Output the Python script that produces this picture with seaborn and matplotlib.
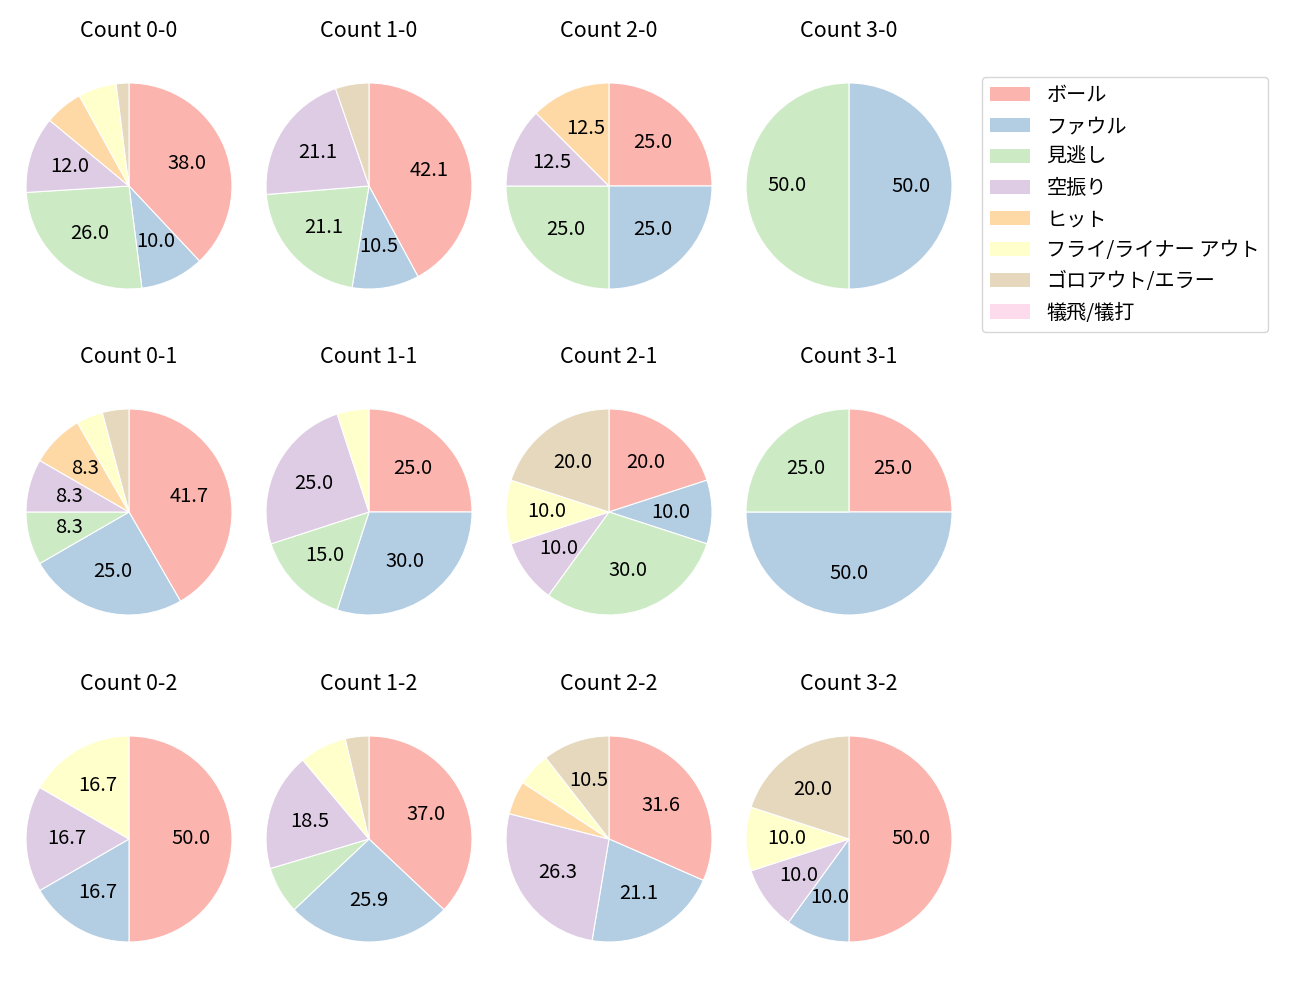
import matplotlib
matplotlib.use("Agg")
import matplotlib.pyplot as plt
import seaborn as sns
from matplotlib.patches import Patch

sns.set_theme(style="white")
plt.rcParams['font.family'] = ['Noto Sans CJK JP', 'DejaVu Sans']
plt.rcParams['text.color'] = 'black'

categories = ["ボール", "ファウル", "見逃し", "空振り", "ヒット",
              "フライ/ライナー アウト", "ゴロアウト/エラー", "犠飛/犠打"]

counts = {
    "0-0": [19, 5, 13, 6, 3, 3, 1, 0],
    "1-0": [8, 2, 4, 4, 0, 0, 1, 0],
    "2-0": [2, 2, 2, 1, 1, 0, 0, 0],
    "3-0": [0, 1, 1, 0, 0, 0, 0, 0],
    "0-1": [10, 6, 2, 2, 2, 1, 1, 0],
    "1-1": [5, 6, 3, 5, 0, 1, 0, 0],
    "2-1": [2, 1, 3, 1, 0, 1, 2, 0],
    "3-1": [1, 2, 1, 0, 0, 0, 0, 0],
    "0-2": [3, 1, 0, 1, 0, 1, 0, 0],
    "1-2": [10, 7, 2, 5, 0, 2, 1, 0],
    "2-2": [6, 4, 0, 5, 1, 1, 2, 0],
    "3-2": [5, 1, 0, 1, 0, 1, 2, 0],
}

balls = [0, 1, 2, 3]
strikes = [0, 1, 2]

colors = sns.color_palette("Pastel1", 9)[:8]

W, H = 1300, 1000
fig = plt.figure(figsize=(13, 10), dpi=100)

box = 240
col_x = [129, 369, 609, 849]
row_y = [186, 512, 839]

for si, s in enumerate(strikes):
    for bi, b in enumerate(balls):
        key = f"{b}-{s}"
        vals = counts[key]
        cx, cy = col_x[bi], row_y[si]
        ax = fig.add_axes([(cx - box / 2) / W, 1 - (cy + box / 2) / H, box / W, box / H])
        nz = [(v, c) for v, c in zip(vals, colors) if v > 0]
        ax.pie([v for v, _ in nz], colors=[c for _, c in nz], startangle=90,
               counterclock=False,
               autopct=lambda p: f"{p:.1f}" if p >= 8 else "",
               pctdistance=0.6,
               wedgeprops=dict(edgecolor="white", linewidth=0.8),
               textprops=dict(fontsize=14.5, color="black"))
        ax.set_xlim(-1.165, 1.165)
        ax.set_ylim(-1.165, 1.165)
        ax.set_aspect("equal")
        ax.set_title(f"Count {key}", fontsize=15.5, pad=21, color="black")

handles = [Patch(facecolor=c, edgecolor="none") for c in colors]
fig.legend(handles, categories, loc="upper left",
           bbox_to_anchor=(982 / W, 1 - 77 / H), fontsize=14.5,
           frameon=True, edgecolor="#cccccc", fancybox=True,
           handlelength=2.0, borderaxespad=0, labelspacing=0.5)

fig.savefig("out.png", dpi=100)
